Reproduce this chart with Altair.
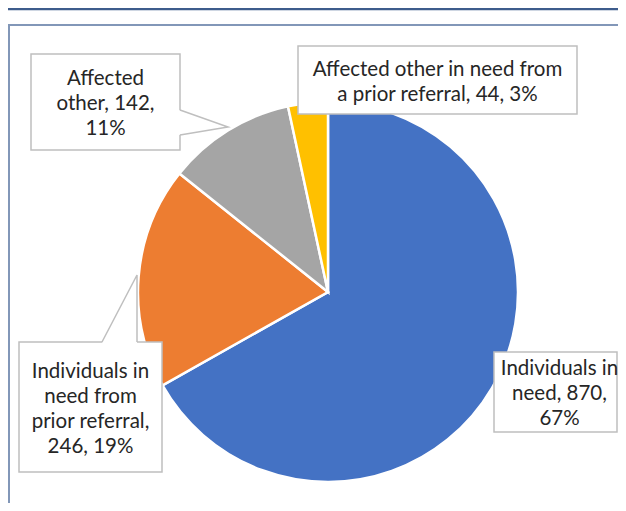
import altair as alt
import pandas as pd

# ---- data ----
categories = ["Individuals in need", "Individuals in need from prior referral",
              "Affected other", "Affected other in need from a prior referral"]
values = [870, 246, 142, 44]
colors = ["#4472C4", "#ED7D31", "#A5A5A5", "#FFC000"]
label_lines = [
    ["Individuals in", "need, 870,", "67%"],
    ["Individuals in", "need from", "prior referral,", "246, 19%"],
    ["Affected", "other, 142,", "11%"],
    ["Affected other in need from", "a prior referral, 44, 3%"],
]

# ---- layout (page pixels; chart origin sits at page (8, 8)) ----
OFF = 8
W, H = 610, 495
CX, CY, R = 328, 292, 190
LH = 25
boxes = [  # x, x2, y, y2 per category
    (494, 617, 352, 432),
    (19, 162, 342, 472),
    (31, 180, 54, 150),
    (298, 577, 46, 114),
]
text_cx = [559.5, 90.5, 105.5, 437.5]

pie_df = pd.DataFrame({"category": categories, "value": values,
                       "order": list(range(len(values)))})

pie = alt.Chart(pie_df).mark_arc(radius=R, stroke="white", strokeWidth=2.5).encode(
    theta=alt.Theta("value:Q", stack=True),
    order=alt.Order("order:Q"),
    color=alt.Color("category:N", scale=alt.Scale(domain=categories, range=colors), legend=None),
    x=alt.value(CX - OFF), y=alt.value(CY - OFF),
)

box_df = pd.DataFrame({
    "x": [b[0] - OFF for b in boxes], "x2": [b[1] - OFF for b in boxes],
    "y": [b[2] - OFF for b in boxes], "y2": [b[3] - OFF for b in boxes],
})
rects = alt.Chart(box_df).mark_rect(fill="white", stroke="#BFBFBF", strokeWidth=1.5).encode(
    x=alt.X("x:Q", scale=None, axis=None), x2="x2:Q",
    y=alt.Y("y:Q", scale=None, axis=None), y2="y2:Q",
)

# callout wedges
gw = pd.DataFrame({"x": [179 - OFF, 228 - OFF], "y": [110 - OFF, 127 - OFF], "y2": [135 - OFF, 127 - OFF]})
gray_fill = alt.Chart(gw).mark_area(fill="white", orient="vertical").encode(
    x=alt.X("x:Q", scale=None, axis=None), y=alt.Y("y:Q", scale=None, axis=None), y2="y2:Q")
ow = pd.DataFrame({"y": [275 - OFF, 343 - OFF], "x": [137 - OFF, 102 - OFF], "x2": [137 - OFF, 137 - OFF]})
orange_fill = alt.Chart(ow).mark_area(fill="white", orient="horizontal").encode(
    y=alt.Y("y:Q", scale=None, axis=None), x=alt.X("x:Q", scale=None, axis=None), x2="x2:Q")

wl = pd.DataFrame({
    "g": ["a", "a", "a", "b", "b", "b"],
    "o": [0, 1, 2, 0, 1, 2],
    "x": [180 - OFF, 228 - OFF, 180 - OFF, 102 - OFF, 137 - OFF, 137 - OFF],
    "y": [110 - OFF, 127 - OFF, 135 - OFF, 342 - OFF, 275 - OFF, 342 - OFF],
})
wedge_lines = alt.Chart(wl).mark_line(color="#BFBFBF", strokeWidth=1.5).encode(
    x=alt.X("x:Q", scale=None, axis=None), y=alt.Y("y:Q", scale=None, axis=None),
    detail="g:N", order="o:Q")

text_df = pd.DataFrame({
    "label": ["\n".join(l) for l in label_lines],
    "x": [cx - OFF for cx in text_cx],
    "y": [(b[2] + b[3]) / 2 + 2 - (len(l) - 1) * LH / 2 - OFF for b, l in zip(boxes, label_lines)],
})
texts = alt.Chart(text_df).mark_text(
    font="Lato", fontSize=20.5, color="#262626", lineBreak="\n", lineHeight=LH,
    align="center", baseline="middle").encode(
    x=alt.X("x:Q", scale=None, axis=None), y=alt.Y("y:Q", scale=None, axis=None), text="label:N")

# frame lines
fr = pd.DataFrame({
    "x": [0, 0, 1], "x2": [W, W, 1],
    "y": [1, 25 - OFF, 25 - OFF], "y2": [1, 25 - OFF, H],
    "c": ["top", "frame", "frame"],
})
frame = alt.Chart(fr).mark_rule().encode(
    x=alt.X("x:Q", scale=None, axis=None), x2="x2:Q",
    y=alt.Y("y:Q", scale=None, axis=None), y2="y2:Q",
    color=alt.Color("c:N", scale=alt.Scale(domain=["top", "frame"], range=["#3E5C8C", "#8297B8"]), legend=None),
    strokeWidth=alt.StrokeWidth("c:N", scale=alt.Scale(domain=["top", "frame"], range=[2.5, 2]), legend=None),
)

chart = alt.layer(frame, pie, rects, gray_fill, orange_fill, wedge_lines, texts).resolve_scale(
    color="independent", strokeWidth="independent"
).properties(
    width=W, height=H, padding=0, autosize=alt.AutoSizeParams(type="none"), background="white"
).configure_view(stroke=None)

chart.save("out.html", embed_options={"renderer": "svg", "actions": False})
